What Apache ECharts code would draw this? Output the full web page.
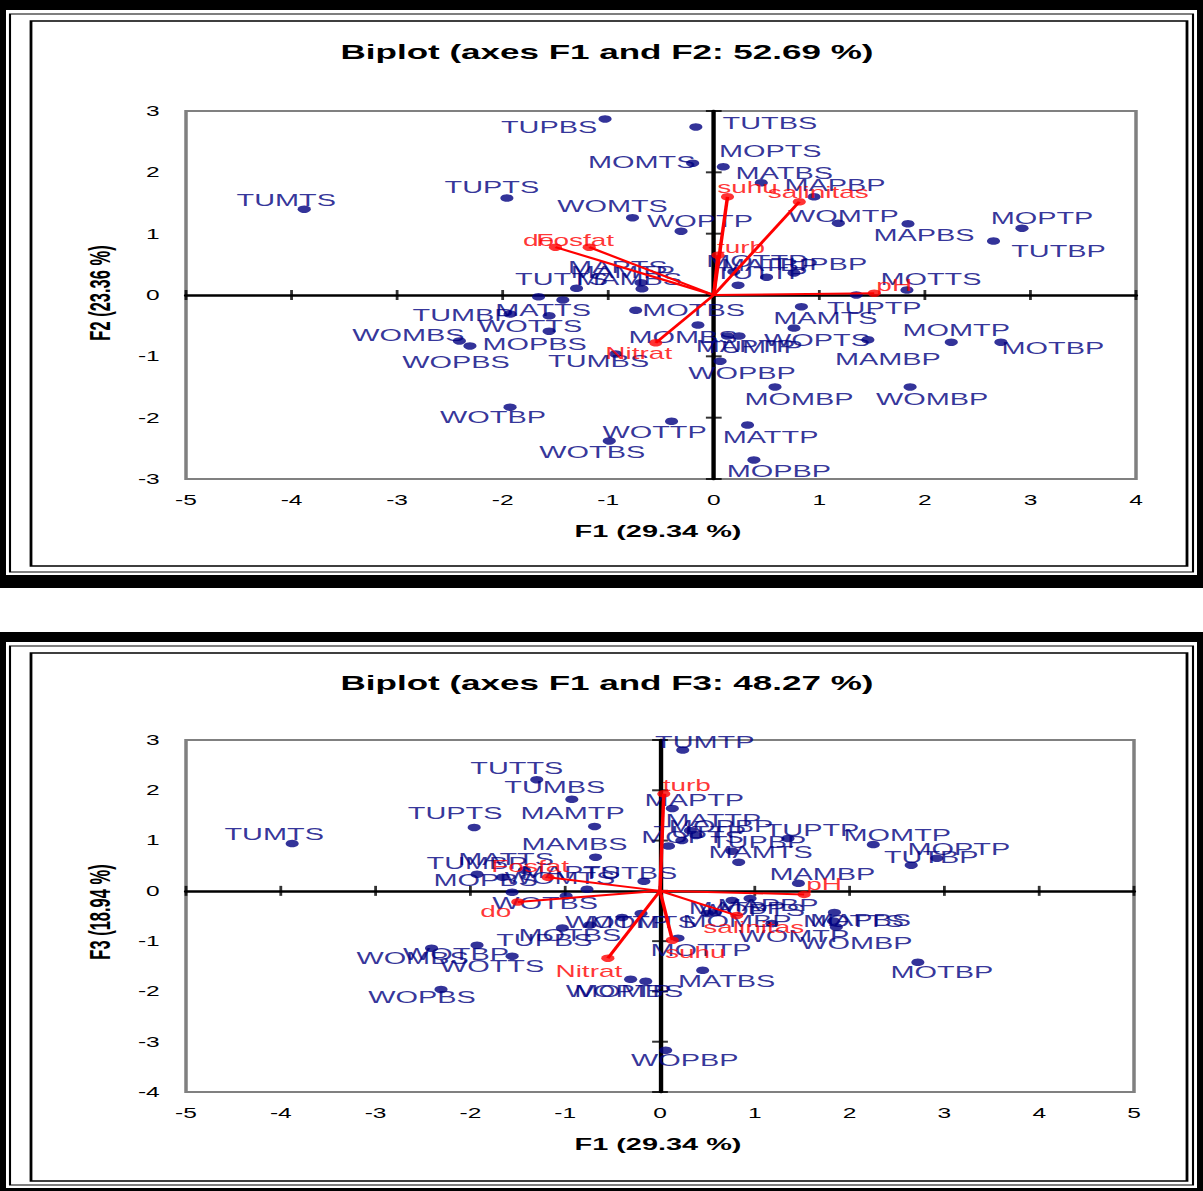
<!DOCTYPE html>
<html><head><meta charset="utf-8">
<script src="https://cdn.jsdelivr.net/npm/echarts@6/dist/echarts.min.js"></script>
<style>
html,body{margin:0;padding:0;background:#fff;overflow:hidden;}
#wrap{width:1203px;height:1191px;overflow:hidden;position:relative;}
#chart{width:687px;height:1191px;transform:scaleX(1.751092);transform-origin:0 0;}
</style></head><body><div id="wrap"><div id="chart"></div></div>
<script>
// ---------------- data ----------------
const obsNames = ['TUPBS','TUTBS','MOMTS','MOPTS','MATBS','MAPBP','WOMTP','MAPBS','TUTBP','MOPTP','TUPTS','TUMTS','WOMTS','WOPTP','TUTTS','MOPBS','MAPTS','TUMBP','MATTS','WOTTS','WOMBS','WOPBS','TUMBS','WOTBP','WOTTP','WOTBS','MAMTP','MAMBS','MOTTP','MATBP','TUPBP','TUTTP','MAMTS','WOPTS','MAMBP','MOMTP','MOTBP','WOPBP','MOMBP','WOMBP','MATTP','MOPBP','TUPTP','MOTTS','MAPTP','TUMTP','MOMBS','MOTBS'];
const obsF1 = [-1.03,-0.17,-0.20,0.09,0.45,0.95,1.18,1.84,2.65,2.92,-1.96,-3.88,-0.77,-0.31,-1.30,-1.66,-1.43,-1.93,-1.56,-1.56,-2.41,-2.31,-0.93,-1.93,-0.40,-0.99,-0.69,-0.68,0.19,0.50,0.76,0.23,0.83,0.76,1.46,2.25,2.72,0.06,0.58,1.86,0.32,0.38,1.35,1.83,0.13,0.24,-0.15,-0.74];
const obsF2 = [2.87,2.74,2.15,2.09,1.83,1.60,1.17,1.16,0.88,1.09,1.58,1.40,1.26,1.04,0.11,-0.03,-0.08,-0.31,-0.34,-0.59,-0.75,-0.83,-0.96,-1.83,-2.06,-2.38,0.20,0.10,0.38,0.29,0.36,0.16,-0.19,-0.54,-0.73,-0.77,-0.77,-1.08,-1.50,-1.50,-2.12,-2.69,0.00,0.08,-0.67,-0.67,-0.49,-0.25];
const obsF3 = [-0.74,0.19,-0.45,0.89,-1.58,-0.15,-0.65,-0.43,0.51,0.65,1.26,0.94,0.03,-1.76,2.21,0.27,0.41,0.33,-0.03,-1.30,-1.14,-1.96,1.82,-1.08,-0.53,-0.10,1.28,0.67,-0.94,-0.45,0.79,1.00,0.57,-0.19,0.15,0.92,-1.42,-3.17,-0.43,-0.72,1.20,1.10,1.04,-0.60,1.64,2.80,-1.80,-0.68];

const varNames = ['do','Fosfat','turb','suhu','salinitas','pH','Nitrat'];
const varF1 = [-1.50,-1.18,0.04,0.13,0.81,1.52,-0.55];
const varF2 = [0.78,0.78,0.65,1.60,1.52,0.03,-0.78];
const varF3 = [-0.22,0.27,1.93,-0.98,-0.49,-0.07,-1.34];

const xTicksTop = [-5,-4,-3,-2,-1,0,1,2,3,4];
const yTicksTop = [-3,-2,-1,0,1,2,3];
const xTicksBot = [-5,-4,-3,-2,-1,0,1,2,3,4,5];
const yTicksBot = [-4,-3,-2,-1,0,1,2,3];

const titleTop = 'Biplot (axes F1 and F2: 52.69 %)';
const titleBot = 'Biplot (axes F1 and F3: 48.27 %)';
const xNameTop = 'F1 (29.34 %)';
const xNameBot = 'F1 (29.34 %)';
const yNameTop = 'F2 (23.36 %)';
const yNameBot = 'F3 (18.94 %)';

// ---------------- label placement (style, screen px) ----------------
const offTop = {TUPBS:[-56,8],TUTBS:[74,-4],MOMTS:[-51,-1],MOPTS:[47,-15],MATBS:[23,-9],MAPBP:[21,-11],WOMTP:[5,-7],MAPBS:[16,12],TUTBP:[65,10],MOPTP:[20,-10],TUPTS:[-15,-11],TUMTS:[-18,-9],WOMTS:[-20,-11],WOPTP:[19,-10],TUTTS:[-15,-9],MOPBS:[-4,48],MAPTS:[55,-33],TUMBP:[-47,1],MATTS:[-6,-5],WOTTS:[-19,-5],WOMBS:[-51,-6],WOPBS:[-14,16],TUMBS:[-17,8],WOTBP:[-17,10],WOTTP:[-17,11],WOTBS:[-17,11],MAMTP:[-18,-10],MAMBS:[-13,-9],MOTTP:[23,-10],MATBP:[3,-12],TUPBP:[25,-9],TUTTP:[23,-12],MAMTS:[24,12],WOPTS:[23,12],MAMBP:[20,20],MOMTP:[5,-12],MOTBP:[52,6],WOPBP:[22,12],MOMBP:[24,12],WOMBP:[22,12],MATTP:[23,12],MOPBP:[25,11],TUPTP:[18,13],MOTTS:[24,-11],MAPTP:[18,10],TUMTP:[14,11],MOMBS:[-15,12],MOTBS:[58,0]};
const offBot = {TUMTP:[22,-8],TUTTS:[-20,-11],TUMBS:[-17,-12],MAPTP:[22,-8],TUPTS:[-19,-14],MAMTP:[-22,-13],TUMTS:[-18,-9],MATTP:[23,-10],MOPBP:[25,-9],TUTTP:[18,-8],MOPTS:[24,-9],TUPTP:[24,-8],MOMTP:[24,-9],TUPBP:[26,-9],MAMBS:[-21,-13],MAMTS:[22,-10],MOPTP:[22,-9],TUTBP:[20,-8],MATTS:[-6,-33],MAPTS:[46,2],TUTBS:[-14,-8],MOPBS:[-17,3],WOMTS:[-27,-11],MAMBP:[24,-9],WOTBS:[-21,8],MAPBP:[18,7],WOPTS:[20,10],MATBP:[30,-5],MOMBP:[22,9],MAPBS:[26,8],MOTTS:[20,0],WOMBP:[20,16],WOMTP:[22,13],MOTTP:[23,12],MATBS:[24,11],MOTBP:[24,10],WOPBP:[19,10],TUPBS:[-18,12],WOTBP:[-21,9],WOMBS:[-19,10],WOTTS:[-20,10],WOPBS:[-19,8],WOPTP:[-12,12],MOMBS:[-17,10],WOTTP:[-5,5],MOMTS:[2,9],MOTBS:[-20,10],TUMBP:[0,-11]};
const varOffTop = {do:[-17,-7],Fosfat:[-14,-7],turb:[23,-8],suhu:[20,-9],salinitas:[19,-9],pH:[20,-8],Nitrat:[-17,11]};
const varOffBot = {do:[-22,9],Fosfat:[-18,-11],turb:[23,-8],suhu:[23,12],salinitas:[17,12],pH:[20,-10],Nitrat:[-19,13]};

// ---------------- rendering ----------------
const S = 1203 / 687;           // horizontal stretch of the reference picture
const X = v => v / S;           // screen x -> layout x
const FONT = '"Liberation Sans", Arial, sans-serif';
const NAVY = '#000080', RED = '#ff0000';

const chart = echarts.init(document.getElementById('chart'), null, {renderer: 'svg'});

function axesFor(gi, xmin, xmax, ymin, ymax) {
  const common = {type: 'value', gridIndex: gi, interval: 1, splitLine: {show: false}};
  return {
    x: [
      Object.assign({}, common, {min: xmin, max: xmax, position: 'top',
        axisLine: {show: true, onZero: true, lineStyle: {color: '#000', width: 2.5}},
        axisTick: {show: false}, axisLabel: {show: false}}),
      Object.assign({}, common, {min: xmin, max: xmax, position: 'bottom',
        axisLine: {show: false, onZero: false}, axisTick: {show: false},
        axisLabel: {show: true, margin: 14, color: '#000', fontSize: 14, fontFamily: FONT}})
    ],
    y: [
      Object.assign({}, common, {min: ymin, max: ymax, position: 'right',
        axisLine: {show: true, onZero: true, lineStyle: {color: '#000', width: 2.5}},
        axisTick: {show: false}, axisLabel: {show: false}}),
      Object.assign({}, common, {min: ymin, max: ymax, position: 'left',
        axisLine: {show: false, onZero: false}, axisTick: {show: false},
        axisLabel: {show: true, margin: 15, color: '#000', fontSize: 14, fontFamily: FONT}})
    ]
  };
}

function seriesFor(gi, ys, vys, offs, voffs, xt, yt) {
  const xi = gi * 2, yi = gi * 2;
  const pts = obsNames.map((n, i) => ({
    name: n, value: [obsF1[i], ys[i]],
    label: {offset: [X((offs[n] || [18, -10])[0]), (offs[n] || [18, -10])[1]]}
  }));
  const ends = varNames.map((n, i) => ({
    name: n, value: [varF1[i], vys[i]],
    label: {offset: [X(voffs[n][0]), voffs[n][1]]}
  }));
  const vecs = varNames.map((n, i) => ({coords: [[0, 0], [varF1[i], vys[i]]]}));
  const ticks = xt.map(t => ({value: [t, 0], symbolSize: [1.6, 10]}))
    .concat(yt.map(t => ({value: [0, t], symbolSize: [9, 2]})));
  return [
    {type: 'scatter', xAxisIndex: xi, yAxisIndex: yi, data: ticks, symbol: 'rect',
     itemStyle: {color: '#000'}, silent: true, z: 3},
    {type: 'scatter', name: 'obs' + gi, xAxisIndex: xi, yAxisIndex: yi, data: pts,
     symbol: 'circle', symbolSize: 7.5, itemStyle: {color: NAVY}, z: 4,
     label: {show: true, position: 'inside', formatter: '{b}', color: NAVY,
             fontSize: 16.5, fontFamily: FONT, align: 'center', verticalAlign: 'middle'}},
    {type: 'lines', coordinateSystem: 'cartesian2d', xAxisIndex: xi, yAxisIndex: yi,
     data: vecs, lineStyle: {color: RED, width: 2, opacity: 1}, z: 5, silent: true},
    {type: 'scatter', name: 'vars' + gi, xAxisIndex: xi, yAxisIndex: yi, data: ends,
     symbol: 'circle', symbolSize: 7.5, itemStyle: {color: RED}, z: 6,
     label: {show: true, position: 'inside', formatter: '{b}', color: RED,
             fontSize: 16, fontFamily: FONT, align: 'center', verticalAlign: 'middle'}}
  ];
}

const aTop = axesFor(0, -5, 4, -3, 3);
const aBot = axesFor(1, -5, 5, -4, 3);

// panel frame: black band, white inset, thin line, inner box
function frame(b0, b1, w0, w1, l0, l1, i0, i1) {
  return [
    {type: 'rect', z: -10, shape: {x: 0, y: b0, width: X(1203), height: b1 - b0}, style: {fill: '#000'}},
    {type: 'rect', z: -9, shape: {x: X(6), y: w0, width: X(1191), height: w1 - w0}, style: {fill: '#fff'}},
    {type: 'rect', z: -8, shape: {x: X(10), y: l0, width: X(1183), height: l1 - l0}, style: {fill: 'none', stroke: '#000', lineWidth: 1.2}},
    {type: 'rect', z: -8, shape: {x: X(31), y: i0, width: X(1156), height: i1 - i0}, style: {fill: 'none', stroke: '#000', lineWidth: 1.6}}
  ];
}
function txt(t, x, y, font, rot) {
  return {type: 'text', z: 20, x: X(x), y: y, rotation: rot || 0,
          style: {text: t, font: font, fill: '#000', textAlign: 'center', textVerticalAlign: 'middle'}};
}

const option = {
  animation: false,
  backgroundColor: '#fff',
  grid: [
    {left: X(186), top: 111, width: X(950), height: 368, show: true, borderColor: '#808080', borderWidth: 2, backgroundColor: 'transparent'},
    {left: X(186), top: 740, width: X(948), height: 352, show: true, borderColor: '#808080', borderWidth: 2, backgroundColor: 'transparent'}
  ],
  xAxis: aTop.x.concat(aBot.x),
  yAxis: aTop.y.concat(aBot.y),
  series: seriesFor(0, obsF2, varF2, offTop, varOffTop, xTicksTop, yTicksTop)
    .concat(seriesFor(1, obsF3, varF3, offBot, varOffBot, xTicksBot, yTicksBot)),
  graphic: {elements: [].concat(
    frame(0, 588, 10, 575, 14, 572, 21, 566),
    frame(632, 1195, 642, 1188, 646, 1185, 653, 1181),
    [
      txt(titleTop, 607, 52, 'bold 20px ' + FONT),
      txt(titleBot, 607, 683, 'bold 20px ' + FONT),
      txt(xNameTop, 658, 531, 'bold 16.5px ' + FONT),
      txt(xNameBot, 658, 1144, 'bold 16.5px ' + FONT),
      txt(yNameTop, 100, 293, 'bold 16.5px ' + FONT, Math.PI / 2),
      txt(yNameBot, 100, 912, 'bold 16.5px ' + FONT, Math.PI / 2)
    ]
  )}
};
chart.setOption(option);
</script></body></html>
